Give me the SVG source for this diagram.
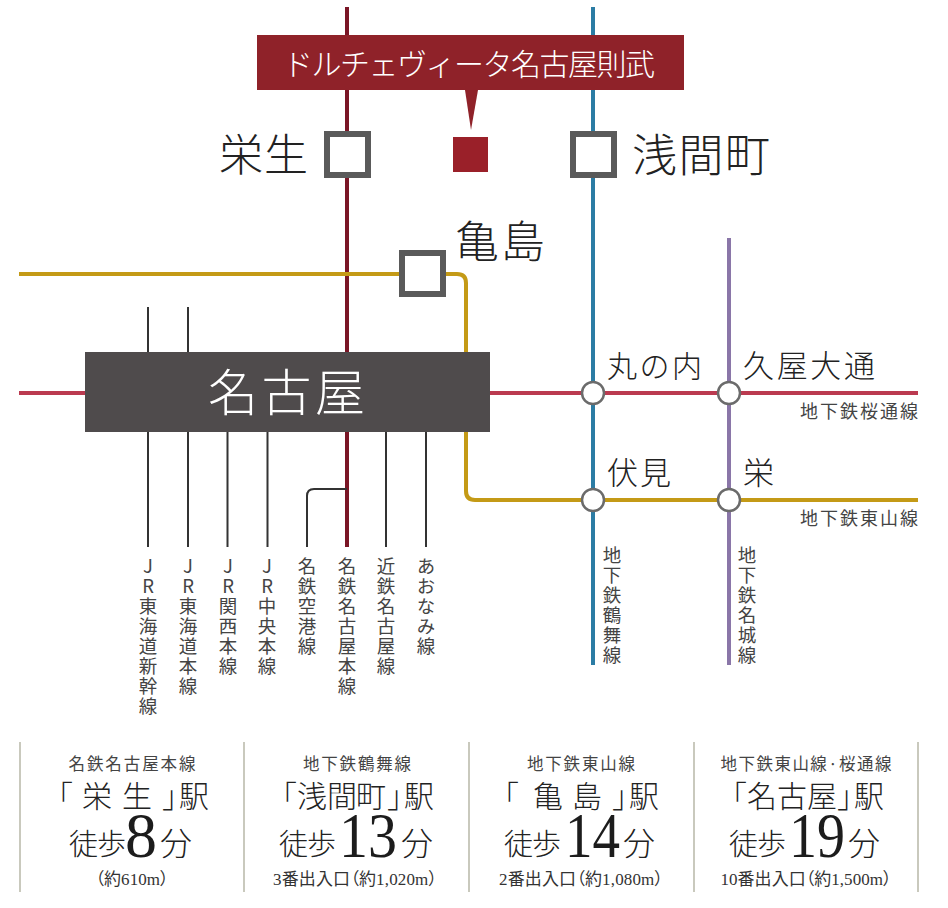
<svg xmlns="http://www.w3.org/2000/svg" width="948" height="908" viewBox="0 0 948 908">
<style>
text{font-family:"Liberation Serif","Noto Sans CJK JP",serif;font-weight:400;fill:#222}
.j{font-family:"Noto Sans CJK JP",sans-serif;font-weight:300}
.line{fill:none;stroke-width:4}
.blk{fill:none;stroke:#333;stroke-width:2}
.st{fill:#fff;stroke:#5a5a5a;stroke-width:6}
.ci{fill:#fff;stroke:#6b6b6b;stroke-width:2.5}
.lab{font-family:"Noto Sans CJK JP",sans-serif;font-weight:400;font-size:18px;fill:#444}
.v{font-family:"Noto Sans CJK JP",sans-serif;font-weight:400;font-size:18.500px;letter-spacing:1.500px;writing-mode:vertical-rl;text-orientation:upright;fill:#444}
.sub{font-family:"Noto Sans CJK JP",sans-serif;font-weight:400;font-size:16.500px;fill:#444;text-anchor:middle}
.nm{font-family:"Noto Sans CJK JP",sans-serif;font-weight:300;font-size:30px}
.wk{font-family:"Noto Sans CJK JP",sans-serif;font-weight:300;font-size:29px}
.fn{font-family:"Noto Sans CJK JP",sans-serif;font-weight:300;font-size:32px}
.num{font-family:"Liberation Serif",serif;font-weight:400;font-size:64px;fill:#1c1c1c}
.ds{font-size:17px;fill:#333;text-anchor:middle;font-feature-settings:"palt"}
.sep{stroke:#c9c9bd;stroke-width:2}
</style>
<rect width="948" height="908" fill="#fff"/>
<g id="connectors">
<path class="line" stroke="#7a1626" d="M347 7V547"/>
<path class="line" stroke="#2b7ca4" d="M593 7V665"/>
<path class="line" stroke="#8a76a8" d="M729 238V665"/>
<path class="line" stroke="#c49a16" d="M19 274H457Q466 274 466 283V491Q466 500 475 500H918"/>
<path class="line" stroke="#bb3a50" d="M19 393H918"/>
<path class="blk" d="M148 307V352M188 307V352M148 432V547M188 432V547M227.500 432V547M267.500 432V547M386 432V547M426 432V547"/>
<path class="blk" d="M307 547V496Q307 489 314 489H347"/>
</g>
<g id="node-banner">
<rect x="257" y="35" width="427" height="55" fill="#8f2229"/>
<path d="M465 90H478L471 130Z" fill="#8f2229"/>
<text class="j" x="283" y="75" font-size="30" textLength="372" lengthAdjust="spacing" style="fill:#fff">ドルチェヴィータ名古屋則武</text>
</g>
<g id="node-site"><rect x="453" y="137" width="35" height="35" fill="#9a2029"/></g>
<g id="node-sakae"><rect class="st" x="327" y="134" width="41" height="41"/><text class="j" x="219" y="171" font-size="44" textLength="89">栄生</text></g>
<g id="node-sengencho"><rect class="st" x="573" y="134" width="41" height="41"/><text class="j" x="632" y="172" font-size="45" textLength="138">浅間町</text></g>
<g id="node-kamejima"><rect class="st" x="402" y="253" width="41" height="41"/><text class="j" x="455" y="258" font-size="44" textLength="90">亀島</text></g>
<g id="node-nagoya"><rect x="85" y="352" width="405" height="80" fill="#4f4b4c"/><text class="j" x="208" y="411" font-size="50" textLength="157" style="fill:#fff">名古屋</text></g>
<g id="node-marunouchi"><circle class="ci" cx="593" cy="393" r="11"/><text class="j" x="607" y="377" font-size="30" textLength="95">丸の内</text></g>
<g id="node-hisaya"><circle class="ci" cx="729" cy="393" r="11"/><text class="j" x="743" y="377" font-size="31" textLength="132">久屋大通</text></g>
<g id="node-fushimi"><circle class="ci" cx="593" cy="500" r="11"/><text class="j" x="607" y="484" font-size="31" textLength="64">伏見</text></g>
<g id="node-sakae2"><circle class="ci" cx="729" cy="500" r="11"/><text class="j" x="743" y="484" font-size="31">栄</text></g>
<g id="line-labels">
<text class="lab" x="800" y="418" textLength="118">地下鉄桜通線</text>
<text class="lab" x="800" y="525" textLength="118">地下鉄東山線</text>
<text class="v" x="612" y="546">地下鉄鶴舞線</text>
<text class="v" x="747" y="546">地下鉄名城線</text>
<text class="v" x="148" y="557">JR東海道新幹線</text>
<text class="v" x="188" y="557">JR東海道本線</text>
<text class="v" x="228" y="557">JR関西本線</text>
<text class="v" x="267" y="557">JR中央本線</text>
<text class="v" x="307" y="557">名鉄空港線</text>
<text class="v" x="347" y="557">名鉄名古屋本線</text>
<text class="v" x="386" y="557">近鉄名古屋線</text>
<text class="v" x="426" y="557">あおなみ線</text>
</g>
<g id="info">
<path class="sep" d="M20 742V892M244 742V892M469 742V892M694 742V892M918 742V892"/>
<g id="info-sakae">
<text class="sub" x="132" y="770" textLength="127">名鉄名古屋本線</text>
<text class="nm" x="43 82 122 162 179" y="807">「栄生」駅</text>
<text class="wk" x="69 97" y="855">徒歩</text><text class="num" x="125" y="857">8</text><text class="fn" x="160" y="855">分</text>
<text class="ds" x="132" y="885" textLength="73">（約610m）</text>
</g>
<g id="info-sengencho">
<text class="sub" x="357" y="770" textLength="108">地下鉄鶴舞線</text>
<text class="nm" x="267 297 327 356 387 404" y="807">「浅間町」駅</text>
<text class="wk" x="279 307" y="855">徒歩</text><text class="num" x="339" y="857" textLength="58" lengthAdjust="spacingAndGlyphs">13</text><text class="fn" x="401" y="855">分</text>
<text class="ds" x="355" y="885" textLength="164">3番出入口（約1,020m）</text>
</g>
<g id="info-kamejima">
<text class="sub" x="581" y="770" textLength="108">地下鉄東山線</text>
<text class="nm" x="489 533 572 612 629" y="807">「亀島」駅</text>
<text class="wk" x="504 532" y="855">徒歩</text><text class="num" x="565" y="857" textLength="55" lengthAdjust="spacingAndGlyphs">14</text><text class="fn" x="623" y="855">分</text>
<text class="ds" x="581" y="885" textLength="164">2番出入口（約1,080m）</text>
</g>
<g id="info-nagoya">
<text class="sub" x="806" y="770" textLength="171">地下鉄東山線·桜通線</text>
<text class="nm" x="717 747 777 807 837 854" y="807">「名古屋」駅</text>
<text class="wk" x="729 757" y="855">徒歩</text><text class="num" x="789" y="857" textLength="56" lengthAdjust="spacingAndGlyphs">19</text><text class="fn" x="848" y="855">分</text>
<text class="ds" x="806" y="885" textLength="171">10番出入口（約1,500m）</text>
</g>
</g>
</svg>
